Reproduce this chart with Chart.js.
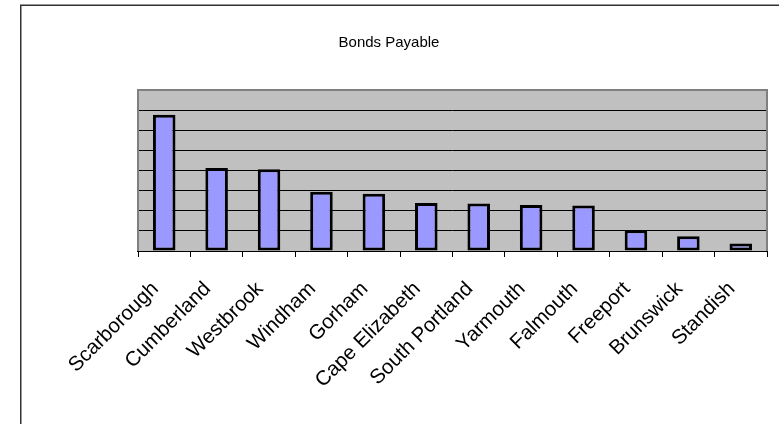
<!DOCTYPE html>
<html>
<head>
<meta charset="utf-8">
<title>Bonds Payable</title>
<script src="https://cdn.jsdelivr.net/npm/chart.js@4.4.1/dist/chart.umd.min.js"></script>
<style>
    html, body { margin: 0; padding: 0; background: #fff; overflow: hidden; }
    #wrap { position: relative; width: 779px; height: 424px; }
</style>
</head>
<body>
<div id="wrap"><canvas id="bondsChart" width="779" height="424"></canvas></div>
<script>
    'use strict';

    var chartTitle = 'Bonds Payable';
    var towns = ['Scarborough', 'Cumberland', 'Westbrook', 'Windham', 'Gorham', 'Cape Elizabeth',
        'South Portland', 'Yarmouth', 'Falmouth', 'Freeport', 'Brunswick', 'Standish'];
    var bonds = [6.77, 4.13, 4.06, 2.94, 2.85, 2.39, 2.36, 2.29, 2.26, 1.03, 0.73, 0.37];
    var yMin = 0;
    var yMax = 8;
    var yStep = 1;

    var fontFamily = "'Liberation Sans', Arial, sans-serif";

    // excel-ish frame, grey plot background and the title
    var frame = {
        id: 'frame',
        beforeDraw: function (chart) {
            var ctx = chart.ctx;
            var area = chart.chartArea;
            ctx.save();
            ctx.fillStyle = '#fff';
            ctx.fillRect(0, 0, chart.width, chart.height);
            ctx.strokeStyle = '#333';
            ctx.lineWidth = 1.5;
            ctx.beginPath();
            ctx.moveTo(20.75, chart.height + 5);
            ctx.lineTo(20.75, 5.25);
            ctx.lineTo(chart.width + 5, 5.25);
            ctx.stroke();
            ctx.fillStyle = '#c0c0c0';
            ctx.fillRect(area.left, area.top, area.right - area.left, area.bottom - area.top);
            ctx.fillStyle = '#000';
            ctx.font = '15px ' + fontFamily;
            ctx.textAlign = 'center';
            ctx.textBaseline = 'middle';
            ctx.fillText(chartTitle, 389, 43);
            ctx.restore();
        },
        beforeDatasetsDraw: function (chart) {
            var ctx = chart.ctx;
            var area = chart.chartArea;
            ctx.save();
            ctx.strokeStyle = '#808080';
            ctx.lineWidth = 2;
            ctx.beginPath();
            ctx.moveTo(area.left, area.bottom);
            ctx.lineTo(area.left, area.top);
            ctx.lineTo(area.right, area.top);
            ctx.lineTo(area.right, area.bottom);
            ctx.stroke();
            ctx.strokeStyle = '#000';
            ctx.lineWidth = 1;
            ctx.beginPath();
            ctx.moveTo(area.left - 1, area.bottom + 0.5);
            ctx.lineTo(area.right + 1, area.bottom + 0.5);
            ctx.stroke();
            ctx.restore();
        }
    };

    var ctx = document.getElementById('bondsChart');

    var bondsChart = new Chart(ctx, {
        type: 'bar',
        data: {
            labels: towns,
            datasets: [
                {
                    label: chartTitle,
                    data: bonds,
                    backgroundColor: '#9999ff',
                    borderColor: '#000',
                    borderWidth: 3,
                    borderSkipped: false,
                    barPercentage: 0.43,
                    categoryPercentage: 1
                }
            ]
        },
        options: {
            responsive: false,
            animation: false,
            events: [],
            layout: {
                padding: { left: 138, top: 90, right: 12, bottom: 0 }
            },
            plugins: {
                legend: { display: false },
                title: { display: false },
                tooltip: { enabled: false }
            },
            scales: {
                x: {
                    offset: true,
                    grid: {
                        offset: true,
                        drawOnChartArea: false,
                        color: '#000',
                        lineWidth: 1,
                        tickLength: 6
                    },
                    border: { display: false },
                    ticks: {
                        minRotation: 45,
                        maxRotation: 45,
                        autoSkip: false,
                        padding: 20,
                        labelOffset: -9,
                        color: '#000',
                        font: { family: fontFamily, size: 20.5 }
                    },
                    afterFit: function (scale) {
                        scale.height = 173;
                    }
                },
                y: {
                    min: yMin,
                    max: yMax,
                    ticks: { display: false, stepSize: yStep },
                    grid: {
                        drawTicks: false,
                        tickLength: 0,
                        lineWidth: 1,
                        color: function (c) {
                            return c.tick && c.tick.value === yMax ? '#808080' : '#000';
                        }
                    },
                    border: { display: false },
                    afterFit: function (scale) {
                        scale.width = 0;
                    }
                }
            }
        },
        plugins: [frame]
    });
</script>
</body>
</html>
